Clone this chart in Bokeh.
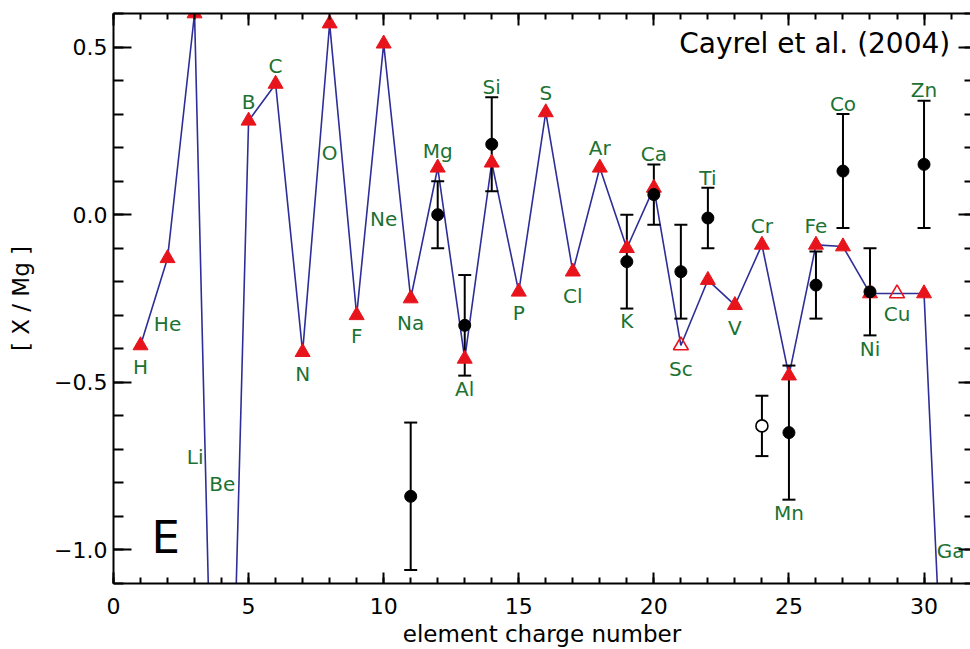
from bokeh.plotting import figure
from bokeh.models import FixedTicker, LinearAxis, Range1d, Label, ColumnDataSource, CustomLabelingPolicy
from bokeh.core.properties import value
from bokeh.embed import file_html
from bokeh.resources import INLINE

# ---------------- data ----------------
elements = ["H", "He", "Li", "Be", "B", "C", "N", "O", "F", "Ne", "Na", "Mg", "Al", "Si",
            "P", "S", "Cl", "Ar", "K", "Ca", "Sc", "Ti", "V", "Cr", "Mn", "Fe", "Co", "Ni",
            "Cu", "Zn", "Ga"]
charge = list(range(1, 32))
model = [-0.39, -0.13, 0.60, -2.75, 0.28, 0.39, -0.41, 0.57, -0.30, 0.51, -0.25, 0.14,
         -0.43, 0.155, -0.23, 0.305, -0.17, 0.14, -0.10, 0.08, -0.39, -0.195, -0.27,
         -0.09, -0.48, -0.09, -0.095, -0.235, -0.235, -0.235, -2.0]
open_model_elements = ["Sc", "Cu"]

obs_z = [11, 12, 13, 14, 19, 20, 21, 22, 25, 26, 27, 28, 30]
obs_val = [-0.84, 0.00, -0.33, 0.21, -0.14, 0.06, -0.17, -0.01, -0.65, -0.21, 0.13, -0.23, 0.15]
obs_hi = [-0.62, 0.10, -0.18, 0.35, 0.00, 0.15, -0.03, 0.08, -0.45, -0.11, 0.30, -0.10, 0.34]
obs_lo = [-1.06, -0.10, -0.48, 0.07, -0.28, -0.03, -0.31, -0.10, -0.85, -0.31, -0.04, -0.36, -0.04]

open_obs_z = [24]
open_obs_val = [-0.63]
open_obs_hi = [-0.54]
open_obs_lo = [-0.72]

label_x = [1, 2, 3.02, 4.03, 5, 6, 7, 8, 9, 10, 11, 12, 13, 14, 15, 16, 17, 18, 19, 20,
           21, 22, 23, 24, 25, 26, 27, 28, 29, 30, 30.98]
label_y = [-0.454, -0.326, -0.724, -0.802, 0.336, 0.443, -0.476, 0.185, -0.362, -0.014,
           -0.322, 0.19, -0.52, 0.38, -0.292, 0.364, -0.242, 0.20, -0.317, 0.18, -0.461,
           0.11, -0.337, -0.034, -0.89, -0.034, 0.329, -0.40, -0.297, 0.371, -1.003]

x_major = [0, 5, 10, 15, 20, 25, 30]
x_minor = list(range(0, 33))
y_major = [-1.0, -0.5, 0.0, 0.5]
y_minor = [round(-1.1 + 0.1 * i, 1) for i in range(18)]
y_labels = {-1.0: "\u22121.0", -0.5: "\u22120.5", 0.0: "0.0", 0.5: "0.5"}

RED = "#e8141c"
BLUE = "#2e2e98"
GREEN = "#1c7232"
FONT = "DejaVu Sans"

# ---------------- figure ----------------
p = figure(width=970, height=649, x_range=Range1d(0, 31.72), y_range=Range1d(-1.1, 0.6),
           output_backend="svg", toolbar_location=None,
           min_border_left=113, min_border_right=0, min_border_top=13, min_border_bottom=66,
           outline_line_color=None, background_fill_color="white")
p.grid.visible = False

xt = FixedTicker(ticks=x_major, minor_ticks=x_minor)
yt = FixedTicker(ticks=y_major, minor_ticks=y_minor)


def style(ax, major_in, minor_in):
    ax.axis_line_width = 2
    ax.axis_line_color = "black"
    ax.major_tick_line_width = 2
    ax.minor_tick_line_width = 2
    ax.major_tick_line_color = "black"
    ax.minor_tick_line_color = "black"
    ax.major_tick_out = 0
    ax.minor_tick_out = 0
    ax.major_tick_in = major_in
    ax.minor_tick_in = minor_in
    ax.major_label_text_font = FONT
    ax.major_label_text_font_size = "22px"
    ax.major_label_text_color = "black"
    ax.axis_label_text_font = FONT
    ax.axis_label_text_font_style = "normal"
    ax.axis_label_text_color = "black"


xa = p.xaxis[0]
xa.ticker = xt
style(xa, 11, 6)
xa.major_label_standoff = 14
xa.axis_label = "element charge number"
xa.axis_label_text_font_size = "23px"
xa.axis_label_standoff = 4

ya = p.yaxis[0]
ya.ticker = yt
style(ya, 18, 10)
ya.major_label_overrides = y_labels
ya.major_label_standoff = 6
ya.axis_label = "[ X / Mg ]"
ya.axis_label_text_font_size = "23px"
ya.axis_label_standoff = 17

no_labels = "for (const i of indices) { indices.unset(i) }"

top = LinearAxis(ticker=xt)
style(top, 12, 6)
top.major_label_text_font_size = "0px"
top.major_label_policy = CustomLabelingPolicy(code=no_labels)
top.major_label_standoff = 0
p.add_layout(top, "above")

right = LinearAxis(ticker=yt)
style(right, 12, 6)
right.axis_line_color = None
right.major_label_text_font_size = "0px"
right.major_label_policy = CustomLabelingPolicy(code=no_labels)
right.major_label_standoff = 0
p.add_layout(right, "right")

# ---------------- glyphs ----------------
p.line(charge, model, line_color=BLUE, line_width=1.6)

# error bars (observations)
p.segment(x0=obs_z, y0=obs_lo, x1=obs_z, y1=obs_hi, line_color="black", line_width=2)
p.scatter(obs_z, obs_hi, marker="dash", size=13, line_color="black", line_width=2)
p.scatter(obs_z, obs_lo, marker="dash", size=13, line_color="black", line_width=2)
p.segment(x0=open_obs_z, y0=open_obs_lo, x1=open_obs_z, y1=open_obs_hi,
          line_color="black", line_width=2)
p.scatter(open_obs_z, open_obs_hi, marker="dash", size=13, line_color="black", line_width=2)
p.scatter(open_obs_z, open_obs_lo, marker="dash", size=13, line_color="black", line_width=2)

# model triangles
filled_x = [z for z, e in zip(charge, elements) if e not in open_model_elements]
filled_y = [m for m, e in zip(model, elements) if e not in open_model_elements]
open_x = [z for z, e in zip(charge, elements) if e in open_model_elements]
open_y = [m for m, e in zip(model, elements) if e in open_model_elements]
p.scatter(filled_x, filled_y, marker="triangle", size=15, fill_color=RED, line_color=RED)
p.scatter(open_x, open_y, marker="triangle", size=15, fill_color=None, line_color=RED,
          line_width=1.6)

# observed points
p.scatter(obs_z, obs_val, marker="circle", size=12, fill_color="black", line_color="black")
p.scatter(open_obs_z, open_obs_val, marker="circle", size=12, fill_color="white",
          line_color="black", line_width=1.6)

# element labels
src = ColumnDataSource(dict(x=label_x, y=label_y, t=elements))
p.text(x="x", y="y", text="t", source=src, text_font=value(FONT), text_font_size="20px",
       text_color=GREEN, text_align="center", text_baseline="middle")

p.add_layout(Label(x=30.97, y=0.512, text="Cayrel et al. (2004)", text_align="right",
                   text_baseline="middle", text_font=FONT, text_font_size="28px",
                   text_color="black"))
p.add_layout(Label(x=1.93, y=-0.964, text="E", text_align="center", text_baseline="middle",
                   text_font=FONT, text_font_size="45px", text_color="black"))

open("out.html", "w").write(file_html(p, INLINE))
